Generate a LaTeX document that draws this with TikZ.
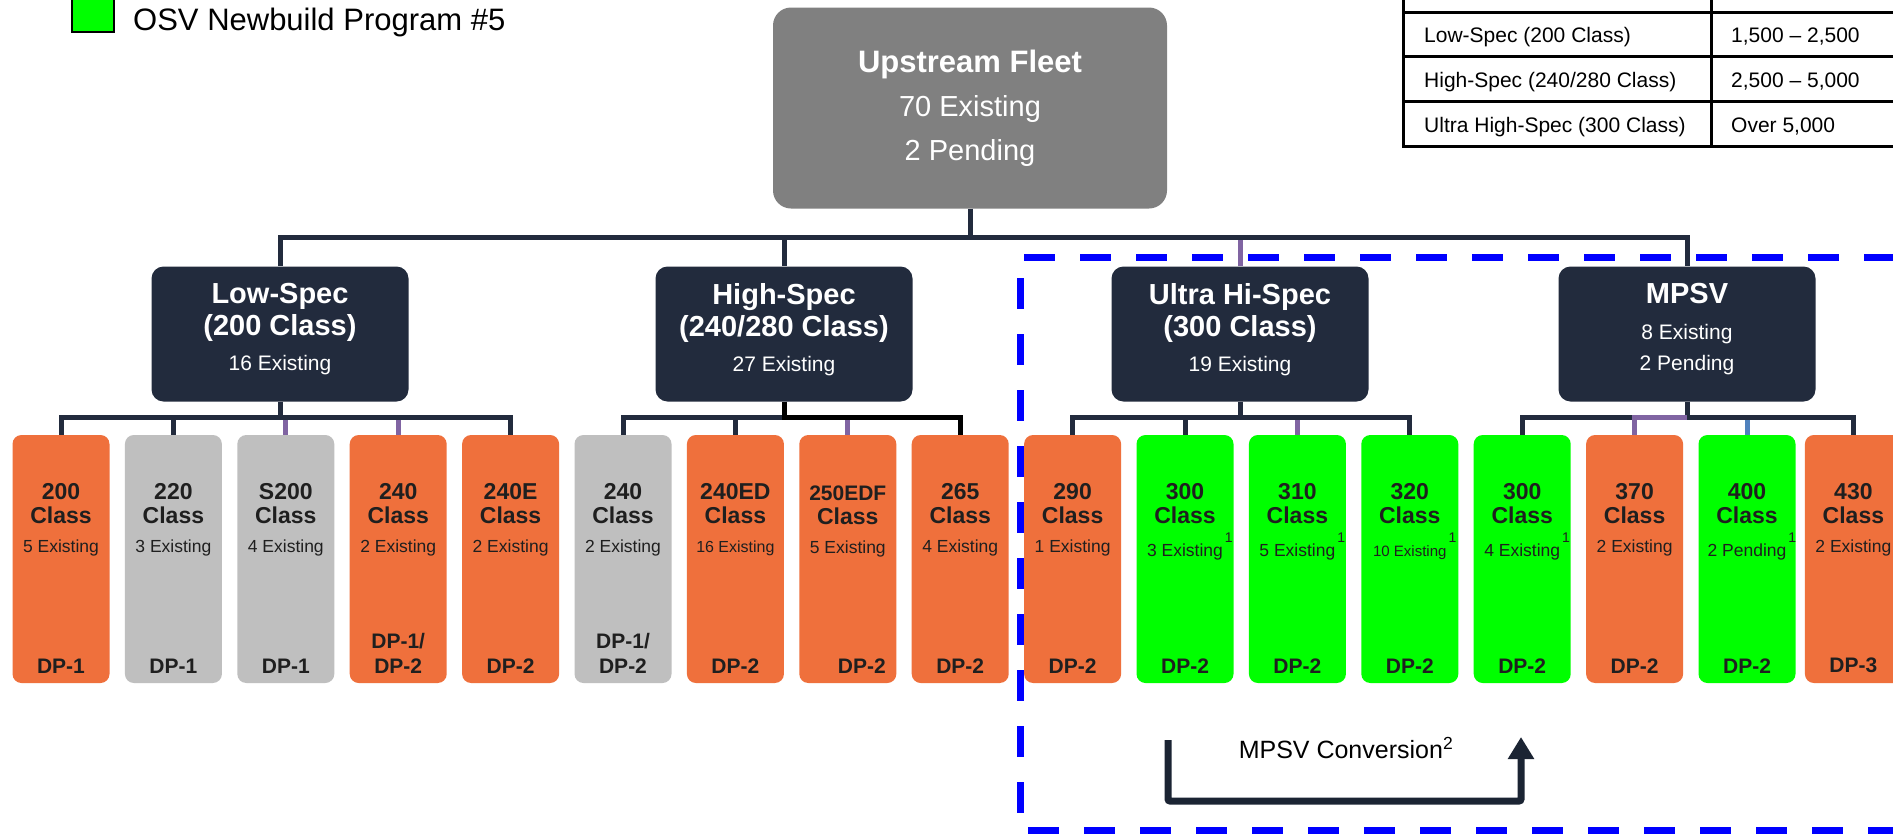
\documentclass[tikz,border=0pt]{standalone}
\usepackage{fontspec}
\setmainfont{Liberation Sans}
\usetikzlibrary{positioning,arrows.meta}

\definecolor{navy}{RGB}{34,43,61}
\definecolor{navydark}{RGB}{27,36,51}
\definecolor{fleetgrey}{RGB}{128,128,128}
\definecolor{rig}{RGB}{239,112,60}
\definecolor{oldgrey}{RGB}{191,191,191}
\definecolor{newbuild}{RGB}{0,255,0}
\definecolor{linkviolet}{RGB}{128,100,162}
\definecolor{linkblue}{RGB}{79,129,189}
\definecolor{zoneblue}{RGB}{0,0,255}

% class box: number, fleet count, DP rating
\newcommand{\vessel}[3]{%
  \parbox[c][228pt][t]{97pt}{\centering
    \vspace*{38pt}%
    {\fontsize{23}{24}\selectfont\bfseries #1\\Class\par}%
    \vspace{9pt}%
    {\fontsize{17.5}{20}\selectfont #2\par}%
    \vfill
    {\fontsize{21}{25}\selectfont\bfseries #3\par}}}
\newcommand{\fnote}[1]{\rlap{\kern2pt\raisebox{14pt}{\fontsize{14}{14}\selectfont #1}}}
\newcommand{\head}[1]{{\fontsize{29}{32}\selectfont\bfseries #1}}
% extra depth under the last line lifts the text block a little
\newcommand{\lastline}[1]{#1\rule[-14pt]{0pt}{0pt}}

\begin{document}
\begin{tikzpicture}[x=1pt,y=-1pt,node distance=15pt,
    fleet/.style={
    fill=fleetgrey,rounded corners=18pt,
    minimum width=394pt,minimum height=201pt,
    text=white,align=center,font=\fontsize{29}{44}\selectfont},
    spec/.style={
    fill=navy,rounded corners=12pt,
    minimum width=257pt,minimum height=135pt,
    text=white,align=center,font=\fontsize{21}{32}\selectfont},
    classbox/.style={
    rounded corners=9pt,inner sep=0pt,
    minimum width=97pt,minimum height=248pt,
    text=black!88},
    link/.style={draw=navy,line width=5pt},
    violetlink/.style={draw=linkviolet,line width=5pt},
    bluelink/.style={draw=linkblue,line width=5pt},
    zone/.style={draw=zoneblue,line width=7pt,dash pattern=on 31pt off 25pt},
    convert/.style={draw=navydark,line width=7pt,rounded corners=2pt,
    -{Triangle[width=25pt,length=22pt]}},
    rule/.style={draw=black,line width=3pt,line cap=rect},
    cell/.style={anchor=base west,inner sep=0pt,font=\fontsize{21}{24}\selectfont}]

    \useasboundingbox (0,0) rectangle (1893,833);
    \clip (0,0) rectangle (1893,833);
    \fill[white] (0,0) rectangle (1893,833);

    % key
    \node (key) [draw=black,line width=2.5pt,fill=newbuild,inner sep=0pt,
      minimum width=42pt,minimum height=42pt] at (93,11) {};
    \node (keytext) [anchor=base west,inner sep=0pt,font=\fontsize{31}{36}\selectfont]
      at (133,30) {OSV Newbuild Program \#5};

    % spec table
    \foreach \y in {12,56,101,146}
      \draw[rule] (1403,\y) -- (1900,\y);
    \foreach \x in {1403,1711}
      \draw[rule] (\x,-5) -- (\x,146);
    \node (low spec) [cell] at (1424,42) {Low-Spec (200 Class)};
    \node (low hp) [cell] at (1731,42) {1,500 – 2,500};
    \node (high spec) [cell] at (1424,87) {High-Spec (240/280 Class)};
    \node (high hp) [cell] at (1731,87) {2,500 – 5,000};
    \node (ultra spec) [cell] at (1424,132) {Ultra High-Spec (300 Class)};
    \node (ultra hp) [cell] at (1731,132) {Over 5,000};

    % fleet and segments
    \node (up) [fleet] at (970,108)
      {{\fontsize{31}{43}\selectfont\bfseries Upstream Fleet}\\70 Existing\\2 Pending};
    \node (low) [spec] at (280,334) {\head{Low-Spec}\\\head{(200 Class)}\\[3pt]\lastline{16 Existing}};
    \node (high) [spec] at (784,334) {\head{High-Spec}\\\head{(240/280 Class)}\\[3pt]\lastline{27 Existing}};
    \node (ultra) [spec] at (1240,334) {\head{Ultra Hi-Spec}\\\head{(300 Class)}\\[3pt]\lastline{19 Existing}};
    \node (mpsv) [spec] at (1687,334) {\head{MPSV}\\[4pt]8 Existing\\[-1pt]\lastline{2 Pending}};

    % vessel classes
    \node (c1) [classbox,fill=rig] at (61,559) {\vessel{200}{5 Existing}{DP-1}};
    \node (c2) [classbox,fill=oldgrey,right=of c1] {\vessel{220}{3 Existing}{DP-1}};
    \node (c3) [classbox,fill=oldgrey,right=of c2] {\vessel{S200}{4 Existing}{DP-1}};
    \node (c4) [classbox,fill=rig,right=of c3] {\vessel{240}{2 Existing}{DP-1/\\DP-2}};
    \node (c5) [classbox,fill=rig,right=of c4] {\vessel{240E}{2 Existing}{DP-2}};
    \node (c6) [classbox,fill=oldgrey,right=of c5] {\vessel{240}{2 Existing}{DP-1/\\DP-2}};
    \node (c7) [classbox,fill=rig,right=of c6] {\vessel{240ED}{{\fontsize{16}{20}\selectfont 16 Existing}}{DP-2}};
    \node (c8) [classbox,fill=rig,right=of c7] {\vessel{{\fontsize{21}{24}\selectfont\rule{0pt}{17pt}250EDF}}{5 Existing}{\hspace*{28pt}DP-2}};
    \node (c9) [classbox,fill=rig,right=of c8] {\vessel{265}{4 Existing}{DP-2}};
    \node (c10) [classbox,fill=rig,right=of c9] {\vessel{290}{1 Existing}{DP-2}};
    \node (c11) [classbox,fill=newbuild,right=of c10] {\vessel{300}{3 Existing\fnote{1}}{DP-2}};
    \node (c12) [classbox,fill=newbuild,right=of c11] {\vessel{310}{5 Existing\fnote{1}}{DP-2}};
    \node (c13) [classbox,fill=newbuild,right=of c12] {\vessel{320}{{\fontsize{15}{20}\selectfont 10 Existing}\fnote{1}}{DP-2}};
    \node (c14) [classbox,fill=newbuild,right=of c13] {\vessel{300}{4 Existing\fnote{1}}{DP-2}};
    \node (c15) [classbox,fill=rig,right=of c14] {\vessel{370}{2 Existing}{DP-2}};
    \node (c16) [classbox,fill=newbuild,right=of c15] {\vessel{400}{2 Pending\fnote{1}}{DP-2}};
    \node (c17) [classbox,fill=rig,right=9pt of c16] {\vessel{430}{2 Existing}{DP-3}};

    % tree lines
    \draw[link] (up.south) -- ++(0,29) coordinate (bus) -| (low.north);
    \foreach \s in {high,ultra,mpsv}
      \draw[link] (bus) -| (\s.north);
    \draw[violetlink,shorten >=2.5pt] (ultra.north) -- (ultra.north |- bus);

    \draw[link] (low.south) -- ++(0,16) coordinate (lowbus) -| (c1.north);
    \foreach \c in {c2,c3,c4,c5}
      \draw[link] (lowbus) -| (\c.north);
    \foreach \c in {c3,c4}
      \draw[violetlink,shorten >=2.5pt] (\c.north) -- (\c.north |- lowbus);

    \draw[link] (high.south) -- ++(0,16) coordinate (highbus) -| (c6.north);
    \foreach \c in {c7,c8}
      \draw[link] (highbus) -| (\c.north);
    \draw[link,draw=black] (high.south) -- (highbus) -| (c9.north);
    \draw[violetlink,shorten >=2.5pt] (c8.north) -- (c8.north |- highbus);

    \draw[link] (ultra.south) -- ++(0,16) coordinate (ultrabus) -| (c10.north);
    \foreach \c in {c11,c12,c13}
      \draw[link] (ultrabus) -| (\c.north);
    \draw[violetlink,shorten >=2.5pt] (c12.north) -- (c12.north |- ultrabus);

    \draw[link] (mpsv.south) -- ++(0,16) coordinate (mpsvbus) -| (c14.north);
    \foreach \c in {c16,c17}
      \draw[link] (mpsvbus) -| (\c.north);
    \draw[violetlink] (mpsvbus) -| (c15.north);
    \draw[bluelink,shorten >=2.5pt] (c16.north) -- (c16.north |- mpsvbus);

    % conversion group
    \draw[zone,dash phase=52pt] (1020,257) -- (1910,257);
    \draw[zone,dash phase=35pt] (1020,257) -- (1020,830) -- (1910,830);

    \coordinate (convfrom) at (1168,740);
    \coordinate (convto) at (1521,737);
    \draw[convert] (convfrom) -- ++(0,61) -| (convto);
    \node (convnote) [font=\fontsize{25}{28}\selectfont] at (1346,748) {MPSV Conversion\textsuperscript{2}};
\end{tikzpicture}
\end{document}
